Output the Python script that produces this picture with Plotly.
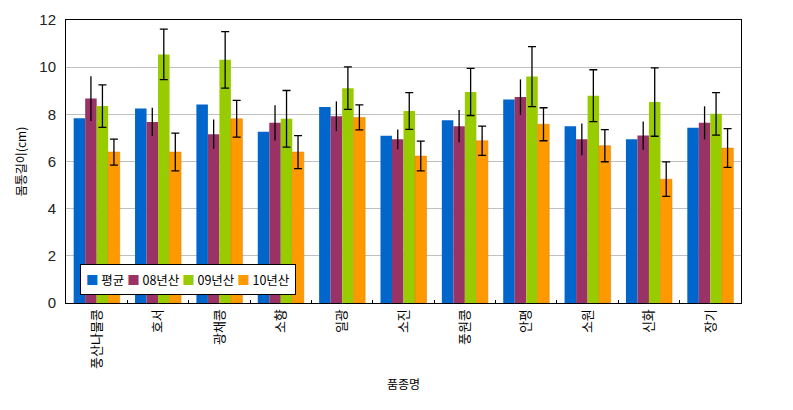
import plotly.graph_objects as go

categories = ["풍산나물콩", "호서", "광채콩", "소향", "일광", "소진", "풍원콩", "안평", "소원", "신화", "장기"]
series_names = ["평균", "08년산", "09년산", "10년산"]
series_colors = ["#0066CC", "#993366", "#99CC00", "#FF9900"]

avg_vals = [7.83, 8.25, 8.42, 7.26, 8.31, 7.09, 7.75, 8.63, 7.49, 6.94, 7.43]
y08_vals = [8.67, 7.68, 7.16, 7.64, 7.92, 6.94, 7.50, 8.73, 6.94, 7.10, 7.64]
y08_err = [0.95, 0.60, 0.62, 0.75, 0.63, 0.42, 0.68, 0.75, 0.67, 0.60, 0.70]
y09_vals = [8.35, 10.54, 10.31, 7.81, 9.11, 8.14, 8.95, 9.60, 8.79, 8.52, 8.02]
y09_err = [0.90, 1.07, 1.20, 1.20, 0.90, 0.78, 1.00, 1.27, 1.10, 1.45, 0.90]
y10_vals = [6.40, 6.40, 7.81, 6.40, 7.87, 6.23, 6.88, 7.58, 6.67, 5.25, 6.57]
y10_err = [0.55, 0.80, 0.78, 0.70, 0.53, 0.63, 0.62, 0.70, 0.68, 0.73, 0.82]

kfont = "Noto Sans CJK KR"

fig = go.Figure()

fig.add_trace(go.Bar(x=categories, y=avg_vals, name=series_names[0],
                     marker=dict(color=series_colors[0], line=dict(width=0))))
fig.add_trace(go.Bar(x=categories, y=y08_vals, name=series_names[1],
                     marker=dict(color=series_colors[1], line=dict(width=0)),
                     error_y=dict(type="data", array=y08_err, color="black", thickness=1.3, width=0)))
fig.add_trace(go.Bar(x=categories, y=y09_vals, name=series_names[2],
                     marker=dict(color=series_colors[2], line=dict(width=0)),
                     error_y=dict(type="data", array=y09_err, color="black", thickness=1.3, width=4)))
fig.add_trace(go.Bar(x=categories, y=y10_vals, name=series_names[3],
                     marker=dict(color=series_colors[3], line=dict(color="#E07800", width=0.5)),
                     error_y=dict(type="data", array=y10_err, color="black", thickness=1.3, width=4)))

# compact legend like the original (plotly's own legend is too wide here)
legend_text = " ".join(
    '<span style="color:%s">■</span> %s' % (c, n) for c, n in zip(series_colors, series_names)
)
fig.add_annotation(
    text=legend_text, xref="paper", yref="paper", x=0.02, y=0.028,
    xanchor="left", yanchor="bottom", showarrow=False,
    font=dict(family=kfont, size=12.5, color="black"),
    bgcolor="white", bordercolor="black", borderwidth=1, borderpad=5,
)

# page body has an 8px margin, so shift the plot area up/left by that much
fig.update_layout(
    width=793, height=410,
    barmode="group", bargap=0.25, bargroupgap=0,
    paper_bgcolor="white", plot_bgcolor="white",
    margin=dict(l=58, r=60, t=12, b=115),
    font=dict(family=kfont, size=12, color="black"),
    showlegend=False,
)

fig.update_yaxes(
    range=[0, 12], dtick=2, showgrid=True, gridcolor="#C0C0C0", gridwidth=1,
    showline=True, linecolor="black", linewidth=1, mirror=True,
    ticks="", ticklabelstandoff=6,
    tickfont=dict(family="Liberation Sans", size=15, color="#222222"),
    title=dict(text="몸통길이(cm)", font=dict(family=kfont, size=12, color="black"), standoff=10),
    zeroline=False, automargin=False,
)
fig.update_xaxes(
    showline=True, linecolor="black", linewidth=1, mirror=True,
    ticks="inside", tickson="boundaries", ticklen=3, tickcolor="black",
    tickangle=-90, tickfont=dict(family=kfont, size=13, color="black"),
    title=dict(text="품종명", font=dict(family=kfont, size=12, color="black"), standoff=12),
    automargin=False,
)

fig.write_html("out.html")
